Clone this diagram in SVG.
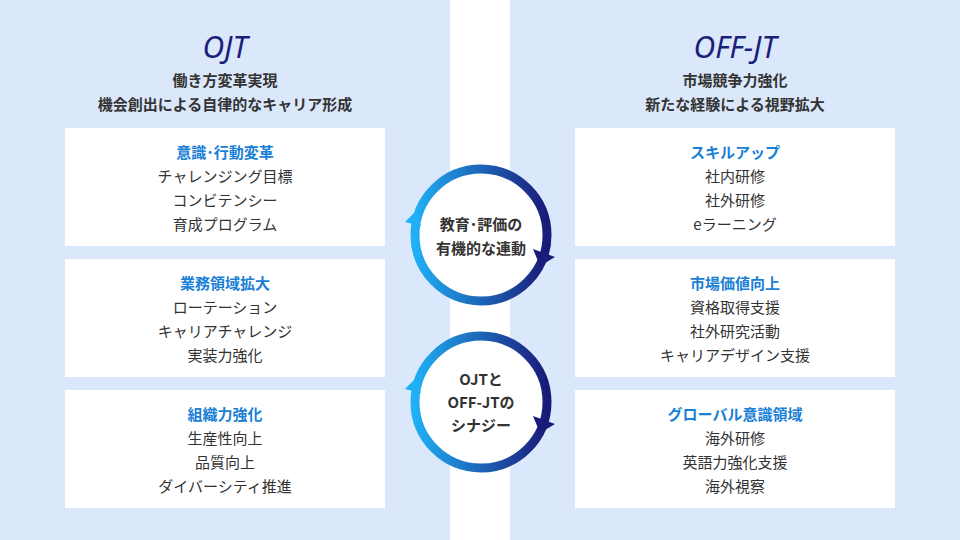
<svg xmlns="http://www.w3.org/2000/svg" width="960" height="540" viewBox="0 0 960 540">
<style>
text{font-family:"Noto Sans CJK JP","Noto Sans",sans-serif;text-anchor:middle}
.h{font-size:30px;font-style:italic;fill:#1a1f7a;font-family:"Noto Sans","Noto Sans CJK JP",sans-serif}
.s{font-size:15px;font-weight:bold;fill:#333}
.bt{font-size:15px;font-weight:bold;fill:#1a7fd6}
.bl{font-size:15px;fill:#333}
.box{fill:#fff}
.ring{fill:#fff;stroke:url(#g);stroke-width:9}
.c{font-size:15px;font-weight:bold;fill:#333}
</style>
<defs>
<linearGradient id="g" x1="0" y1="0" x2="1" y2="0"><stop offset="0" stop-color="#1fb0f5"/><stop offset="1" stop-color="#1a1a78"/></linearGradient>
</defs>
<rect width="960" height="540" fill="#dbe8fb"/>
<rect x="450" width="60" height="540" fill="#fff"/>
<g id="ojt">
<text class="h" x="225" y="58">OJT</text>
<text class="s" x="225" y="86">働き方変革実現</text>
<text class="s" x="225" y="110">機会創出による自律的なキャリア形成</text>
</g>
<g id="offjt">
<text class="h" x="735" y="58">OFF-JT</text>
<text class="s" x="735" y="86">市場競争力強化</text>
<text class="s" x="735" y="110">新たな経験による視野拡大</text>
</g>
<g id="l1"><rect class="box" x="65" y="128" width="320" height="118"/>
<text class="bt" x="225" y="158">意識･行動変革</text><text class="bl" x="225" y="182">チャレンジング目標</text><text class="bl" x="225" y="206">コンビテンシー</text><text class="bl" x="225" y="230">育成プログラム</text></g>
<g id="l2"><rect class="box" x="65" y="259" width="320" height="118"/>
<text class="bt" x="225" y="289">業務領域拡大</text><text class="bl" x="225" y="313">ローテーション</text><text class="bl" x="225" y="337">キャリアチャレンジ</text><text class="bl" x="225" y="361">実装力強化</text></g>
<g id="l3"><rect class="box" x="65" y="390" width="320" height="118"/>
<text class="bt" x="225" y="420">組織力強化</text><text class="bl" x="225" y="444">生産性向上</text><text class="bl" x="225" y="468">品質向上</text><text class="bl" x="225" y="492">ダイバーシティ推進</text></g>
<g id="r1"><rect class="box" x="575" y="128" width="320" height="118"/>
<text class="bt" x="735" y="158">スキルアップ</text><text class="bl" x="735" y="182">社内研修</text><text class="bl" x="735" y="206">社外研修</text><text class="bl" x="735" y="230">eラーニング</text></g>
<g id="r2"><rect class="box" x="575" y="259" width="320" height="118"/>
<text class="bt" x="735" y="289">市場価値向上</text><text class="bl" x="735" y="313">資格取得支援</text><text class="bl" x="735" y="337">社外研究活動</text><text class="bl" x="735" y="361">キャリアデザイン支援</text></g>
<g id="r3"><rect class="box" x="575" y="390" width="320" height="118"/>
<text class="bt" x="735" y="420">グローバル意識領域</text><text class="bl" x="735" y="444">海外研修</text><text class="bl" x="735" y="468">英語力強化支援</text><text class="bl" x="735" y="492">海外視察</text></g>
<g id="c1">
<circle class="ring" cx="481" cy="235" r="66"/>
<path d="M405,222 L416,211 L421,226 Z" fill="#1fb0f5"/>
<path d="M533,249 L555,257 L540,266 Z" fill="#1a1a78"/>
<text class="c" x="481" y="230">教育･評価の</text>
<text class="c" x="481" y="254">有機的な連動</text>
</g>
<g id="c2">
<circle class="ring" cx="481" cy="402" r="66"/>
<path d="M405,389 L416,378 L421,393 Z" fill="#1fb0f5"/>
<path d="M533,416 L555,424 L540,433 Z" fill="#1a1a78"/>
<text class="c" x="481" y="385">OJTと</text>
<text class="c" x="481" y="408">OFF-JTの</text>
<text class="c" x="481" y="431">シナジー</text>
</g>
<g id="connectors"></g>
</svg>
